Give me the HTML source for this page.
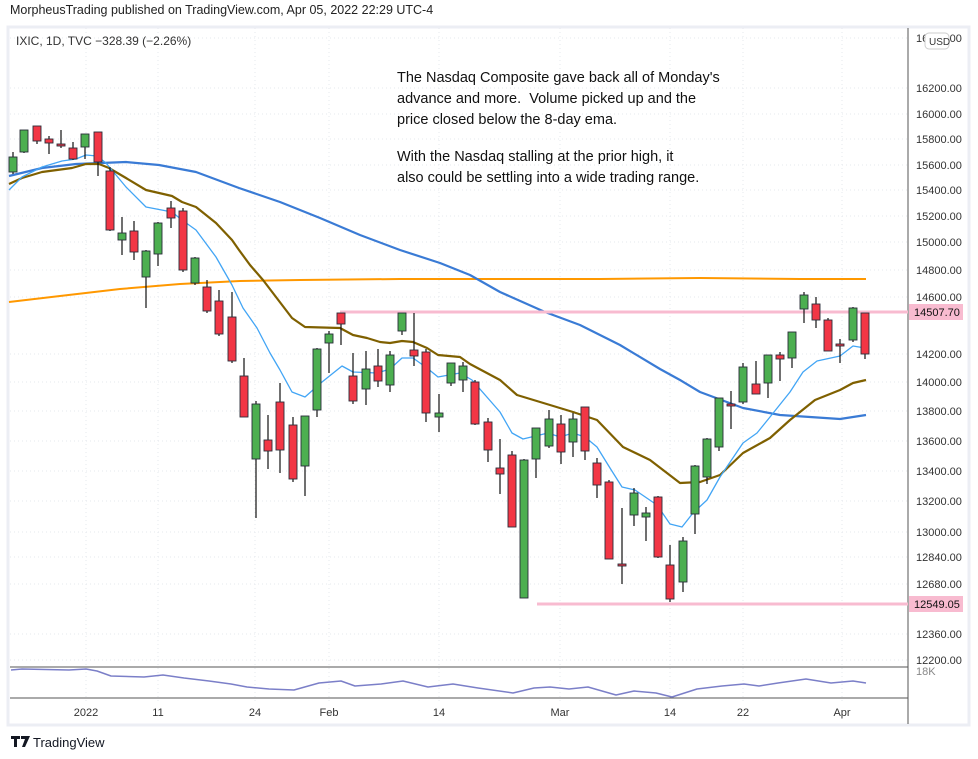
<!DOCTYPE html>
<html><head><meta charset="utf-8"><style>
body{margin:0;background:#fff;width:978px;height:759px;overflow:hidden;font-family:"Liberation Sans",sans-serif}
svg{position:absolute;left:0;top:0}
</style></head><body>
<svg id="s" width="978" height="759" xmlns="http://www.w3.org/2000/svg" font-family="Liberation Sans, sans-serif">
<rect x="0" y="0" width="978" height="759" fill="#fff"/>
<rect x="8" y="27" width="961" height="698" fill="none" stroke="#eceef4" stroke-width="3"/>
<g id="grid" stroke="#e6e8ee" stroke-dasharray="1,3"></g>
<line x1="908" y1="28" x2="908" y2="724" stroke="#555" stroke-width="1"/>
<line x1="10" y1="667" x2="908" y2="667" stroke="#555"/>
<line x1="10" y1="698" x2="908" y2="698" stroke="#555"/>
<g id="ma" fill="none" stroke-linejoin="round"></g>
<line x1="340" y1="312" x2="908" y2="312" stroke="#f8bbd0" stroke-width="3"/>
<line x1="537" y1="604" x2="908" y2="604" stroke="#f8bbd0" stroke-width="3"/>
<g id="c"></g>
<g font-size="11" fill="#333">
<text x="916" y="42">16600.00</text>
<text x="916" y="92">16200.00</text>
<text x="916" y="118">16000.00</text>
<text x="916" y="143">15800.00</text>
<text x="916" y="169">15600.00</text>
<text x="916" y="194">15400.00</text>
<text x="916" y="220">15200.00</text>
<text x="916" y="246">15000.00</text>
<text x="916" y="274">14800.00</text>
<text x="916" y="301">14600.00</text>
<text x="916" y="358">14200.00</text>
<text x="916" y="386">14000.00</text>
<text x="916" y="415">13800.00</text>
<text x="916" y="445">13600.00</text>
<text x="916" y="475">13400.00</text>
<text x="916" y="505">13200.00</text>
<text x="916" y="536">13000.00</text>
<text x="916" y="561">12840.00</text>
<text x="916" y="588">12680.00</text>
<text x="916" y="638">12360.00</text>
<text x="916" y="664">12200.00</text>
<text x="916" y="675" fill="#888">18K</text>
</g>
<rect x="925" y="33" width="24" height="16" rx="4" fill="#fff" stroke="#ccc"/>
<text x="929" y="45" font-size="10" fill="#333">USD</text>
<rect x="909" y="304" width="54" height="16" fill="#f8bbd0"/>
<text x="914" y="316" font-size="11" fill="#111">14507.70</text>
<rect x="909" y="596" width="54" height="16" fill="#f8bbd0"/>
<text x="914" y="608" font-size="11" fill="#111">12549.05</text>
<g font-size="11" fill="#333" text-anchor="middle">
<text x="86" y="716">2022</text><text x="158" y="716">11</text><text x="255" y="716">24</text>
<text x="329" y="716">Feb</text><text x="439" y="716">14</text><text x="560" y="716">Mar</text>
<text x="670" y="716">14</text><text x="743" y="716">22</text><text x="842" y="716">Apr</text>
</g>
<text x="10" y="14" font-size="12.5" fill="#222">MorpheusTrading published on TradingView.com, Apr 05, 2022 22:29 UTC-4</text>
<text x="16" y="45" font-size="12" fill="#333">IXIC, 1D, TVC  −328.39 (−2.26%)</text>
<g font-size="14.5" fill="#111">
<text x="397" y="82">The Nasdaq Composite gave back all of Monday's</text>
<text x="397" y="103">advance and more. &#160;Volume picked up and the</text>
<text x="397" y="124">price closed below the 8-day ema.</text>
<text x="397" y="161">With the Nasdaq stalling at the prior high, it</text>
<text x="397" y="182">also could be settling into a wide trading range.</text>
</g>
<path d="M11 736h9v3h-3v8h-3v-8h-3z M21 736h9l-5 11h-3l3-8h-4z" fill="#131722"/>
<text x="33" y="747" font-size="13" fill="#131722">TradingView</text>
</svg>
<script>
var NS="http://www.w3.org/2000/svg";
function el(p,t,a){var e=document.createElementNS(NS,t);for(var k in a)e.setAttribute(k,a[k]);p.appendChild(e);return e;}
var g=document.getElementById('grid');
[38,88,114,139,165,190,216,242,270,297,354,382,411,441,471,501,532,557,584,634,660].forEach(function(y){el(g,'line',{x1:10,y1:y,x2:908,y2:y});});
[86,158,255,329,439,560,670,743,842].forEach(function(x){el(g,'line',{x1:x,y1:28,x2:x,y2:702});});
var ma=document.getElementById('ma');
function pl(pts,c,w){el(ma,'polyline',{points:pts.map(function(p){return p.join(',')}).join(' '),stroke:c,'stroke-width':w});}
pl([[9,302],[60,296],[120,289],[180,284],[240,281],[300,280],[400,279],[500,279],[600,279],[700,278],[800,279],[866,279]],'#ff9800',2);
pl([[9,176],[42,168],[76,164],[126,162],[159,165],[196,172],[239,188],[280,202],[320,218],[360,235],[400,250],[440,263],[470,275],[500,292],[545,312],[580,325],[620,345],[660,369],[680,380],[700,392],[743,408],[780,415],[840,419],[866,415]],'#3a7bd5',2.2);
pl([[9,184],[22,178],[42,172],[72,168],[86,164],[99,164],[109,168],[126,178],[146,190],[172,196],[182,202],[196,207],[216,223],[232,240],[239,250],[250,265],[263,280],[292,318],[305,327],[340,328],[353,335],[367,338],[380,342],[390,343],[402,341],[413,342],[427,348],[438,355],[460,357],[470,364],[485,372],[500,380],[517,395],[550,405],[573,412],[597,420],[623,447],[650,460],[680,483],[700,482],[720,475],[743,453],[770,438],[790,420],[815,400],[840,390],[853,383],[866,380]],'#7f6000',2.2);
pl([[9,190],[22,177],[42,167],[62,161],[76,159],[86,155],[97,156],[106,163],[126,187],[146,207],[172,212],[182,220],[196,230],[216,257],[232,285],[243,308],[257,328],[270,353],[280,370],[292,392],[305,397],[322,382],[342,366],[353,372],[377,373],[390,369],[402,358],[413,358],[427,368],[438,377],[460,373],[472,380],[500,412],[512,433],[523,439],[548,433],[560,437],[573,433],[585,437],[597,447],[610,468],[622,487],[635,490],[657,505],[670,524],[682,527],[693,513],[707,500],[720,477],[743,443],[757,433],[770,417],[790,392],[803,372],[817,361],[840,356],[853,346],[865,348]],'#42a5f5',1.3);
pl([[11,670],[22,669],[69,670],[86,669],[97,671],[111,676],[144,677],[163,675],[184,678],[209,681],[231,684],[247,687],[269,689],[294,690],[319,683],[341,681],[355,686],[381,684],[403,681],[428,687],[453,684],[478,688],[513,693],[534,688],[550,687],[569,689],[588,687],[616,695],[634,691],[656,693],[672,697],[697,689],[722,686],[744,684],[759,686],[778,683],[806,679],[831,683],[853,681],[866,683]],'#7b7fc8',1.5);
var C=[[13,'g',157,172,152,174],[24,'g',130,152,130,153],[37,'r',126,141,126,144],[49,'r',139,143,136,154],[61,'r',144,146,130,148],[73,'r',148,159,142,160],[85,'g',134,147,134,159],[98,'r',132,162,132,176],[110,'r',171,230,167,231],[122,'g',233,240,217,255],[134,'r',231,252,221,260],[146,'g',251,277,250,308],[158,'g',223,254,222,266],[171,'r',208,218,201,228],[183,'r',211,270,208,272],[195,'g',258,283,257,285],[207,'r',287,311,280,313],[219,'r',301,334,290,336],[232,'r',317,361,292,363],[244,'r',376,417,358,417],[256,'g',404,459,401,518],[268,'r',440,451,415,469],[280,'r',402,450,383,473],[293,'r',425,479,417,482],[305,'g',416,466,416,496],[317,'g',349,410,348,417],[329,'g',334,343,331,373],[341,'r',313,324,313,345],[353,'r',376,401,353,404],[366,'g',369,389,351,405],[378,'r',366,381,349,387],[390,'g',355,385,351,392],[402,'g',313,331,313,335],[414,'r',350,356,313,366],[426,'r',352,413,349,422],[439,'g',413,417,394,432],[451,'g',363,383,363,386],[463,'g',366,380,362,392],[475,'r',382,424,380,425],[488,'r',422,450,418,462],[500,'r',468,474,439,494],[512,'r',455,527,451,527],[524,'g',460,598,459,598],[536,'g',428,459,428,478],[549,'g',419,446,410,448],[561,'r',424,452,415,464],[573,'g',419,442,413,457],[585,'r',407,451,407,460],[597,'r',463,485,458,498],[609,'r',482,559,480,559],[622,'r',564,566,508,584],[634,'g',493,515,488,526],[646,'g',513,517,507,541],[658,'r',497,557,496,558],[670,'r',565,599,545,602],[683,'g',541,582,537,592],[695,'g',466,514,465,534],[707,'g',439,477,438,484],[719,'g',398,447,398,451],[731,'r',404,406,391,429],[743,'g',367,402,363,404],[756,'r',384,394,361,394],[768,'g',355,383,355,398],[780,'r',355,359,352,381],[792,'g',332,358,332,368],[804,'g',295,309,292,323],[816,'r',304,320,297,328],[828,'r',320,351,318,351],[840,'r',344,346,339,363],[853,'g',308,340,307,342],[865,'r',313,354,313,359]];
var cg=document.getElementById('c');
C.forEach(function(c){el(cg,'line',{x1:c[0],y1:c[4],x2:c[0],y2:c[5],stroke:'#111','stroke-width':1.2});
el(cg,'rect',{x:c[0]-4,y:c[2],width:8,height:Math.max(1.5,c[3]-c[2]),fill:c[1]=='g'?'#4caf50':'#f23645',stroke:'#2a2e39','stroke-width':0.9});});
</script>
</body></html>
